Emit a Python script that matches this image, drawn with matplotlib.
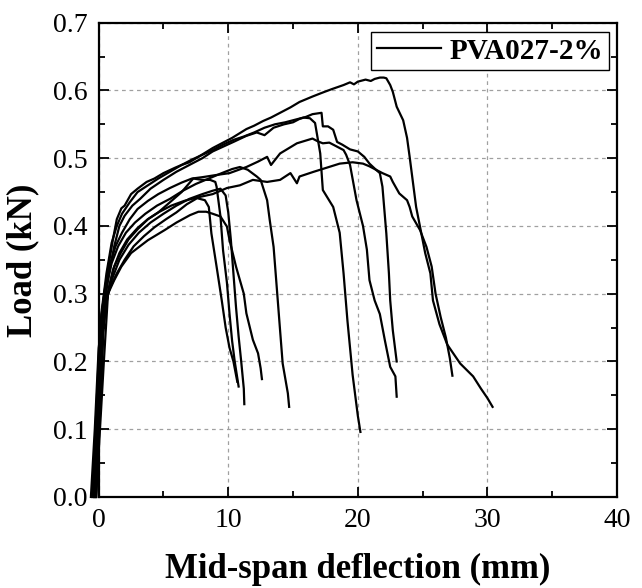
import matplotlib
matplotlib.use("Agg")
import matplotlib.pyplot as plt
from matplotlib.ticker import MultipleLocator

plt.rcParams["font.family"] = ["Liberation Serif", "DejaVu Serif"]

# --- datos (deflexión en mm, carga en kN) ---
xa = [-0.3, 0.0, 0.3, 0.7, 1.1, 1.4, 1.75, 2.0, 2.5, 3.0, 3.7, 4.3, 5.0, 5.9, 6.4, 7.0, 7.7,
      8.8, 9.5, 10.3, 11.4, 12.0, 12.7, 13.3, 14.0, 14.8, 15.5, 16.5, 17.3, 18.0, 18.9, 19.4,
      19.7, 20.0, 20.6, 21.0, 21.3, 21.7, 22.0, 22.2, 22.5, 22.7, 23.0, 23.5, 23.8, 24.0, 24.5,
      24.8, 25.2, 25.6, 25.8, 26.3, 26.9, 27.9, 28.9, 29.5, 30.0, 30.4]
ya = [0.0, 0.12, 0.28, 0.335, 0.38, 0.41, 0.426, 0.43, 0.447, 0.455, 0.465, 0.47, 0.478, 0.486,
      0.49, 0.494, 0.502, 0.515, 0.522, 0.53, 0.543, 0.548, 0.555, 0.56, 0.567, 0.575, 0.583,
      0.591, 0.597, 0.602, 0.608, 0.612, 0.609, 0.613, 0.616, 0.614, 0.617, 0.619, 0.619, 0.618,
      0.608, 0.598, 0.576, 0.556, 0.53, 0.502, 0.428, 0.399, 0.36, 0.33, 0.29, 0.255, 0.225,
      0.197, 0.178, 0.16, 0.146, 0.133]

xb = [-0.2, 0.1, 0.4, 0.8, 1.2, 1.6, 2.0, 2.6, 3.2, 4.0, 5.0, 6.0, 7.0, 8.0, 8.8, 9.6, 10.4,
      11.4, 12.2, 12.8, 13.5, 14.3, 15.0, 15.5, 16.0, 16.5, 17.2, 17.3, 17.7, 18.1, 18.4, 18.8,
      19.4, 20.0, 20.5, 20.9, 21.4, 21.9, 22.5, 22.7, 23.2, 23.8, 24.0, 24.2, 24.8, 25.3, 25.7,
      26.0, 26.4, 26.8, 27.1, 27.3]
yb = [0.0, 0.14, 0.28, 0.33, 0.37, 0.40, 0.415, 0.43, 0.44, 0.455, 0.468, 0.48, 0.49, 0.50,
      0.51, 0.517, 0.524, 0.533, 0.538, 0.534, 0.545, 0.55, 0.553, 0.558, 0.561, 0.565, 0.567,
      0.547, 0.547, 0.542, 0.524, 0.52, 0.513, 0.51, 0.502, 0.492, 0.483, 0.478, 0.473, 0.465,
      0.448, 0.438, 0.428, 0.414, 0.394, 0.369, 0.34, 0.30, 0.265, 0.235, 0.205, 0.179]

xc = [-0.4, -0.1, 0.2, 0.6, 1.0, 1.4, 1.8, 2.4, 3.0, 3.8, 4.6, 5.5, 6.4, 7.2, 8.0, 8.8, 9.6,
      10.4, 11.2, 12.0, 12.8, 13.6, 14.4, 15.2, 15.8, 16.3, 16.7, 17.1, 17.3, 18.1, 18.6, 18.9,
      19.2, 19.6, 20.0, 20.2]
yc = [0.0, 0.13, 0.27, 0.33, 0.375, 0.40, 0.418, 0.435, 0.45, 0.46, 0.47, 0.48, 0.49, 0.498,
      0.505, 0.512, 0.52, 0.527, 0.532, 0.538, 0.545, 0.55, 0.553, 0.557, 0.56, 0.559, 0.552,
      0.507, 0.453, 0.428, 0.39, 0.33, 0.26, 0.18, 0.12, 0.096]

xd = [-0.5, -0.2, 0.1, 0.5, 0.9, 1.3, 1.8, 2.4, 3.0, 3.8, 4.6, 5.5, 6.4, 7.2, 8.0, 9.0, 10.1,
      11.4, 12.3, 13.0, 13.3, 14.0, 15.3, 16.5, 16.9, 17.3, 17.8, 18.4, 18.9, 19.1, 19.4, 19.9,
      20.4, 20.7, 20.9, 21.3, 21.7, 22.1, 22.5, 22.9, 23.0]
yd = [0.0, 0.12, 0.25, 0.31, 0.345, 0.37, 0.39, 0.41, 0.425, 0.437, 0.447, 0.456, 0.464, 0.47,
      0.472, 0.475, 0.478, 0.487, 0.495, 0.502, 0.49, 0.507, 0.522, 0.529, 0.525, 0.522, 0.523,
      0.517, 0.512, 0.505, 0.49, 0.438, 0.40, 0.365, 0.32, 0.29, 0.27, 0.23, 0.192, 0.178, 0.148]

xe = [-0.3, 0.0, 0.3, 0.7, 1.1, 1.6, 2.2, 3.0, 3.8, 4.6, 5.6, 6.6, 7.6, 8.8, 9.9, 10.9, 11.9,
      13.0, 14.0, 14.8, 15.3, 15.5, 16.6, 17.6, 18.6, 19.6, 20.4, 20.9, 21.4, 21.7, 21.9, 22.2,
      22.4, 22.5, 22.7, 23.0]
ye = [0.0, 0.11, 0.24, 0.30, 0.335, 0.36, 0.38, 0.397, 0.41, 0.42, 0.43, 0.437, 0.442, 0.447,
      0.456, 0.46, 0.468, 0.465, 0.468, 0.478, 0.463, 0.473, 0.48, 0.486, 0.492, 0.494, 0.492,
      0.488, 0.483, 0.478, 0.458, 0.389, 0.33, 0.29, 0.246, 0.2]

xf = [-0.4, -0.1, 0.2, 0.6, 1.0, 1.5, 2.1, 2.8, 3.6, 4.5, 5.5, 6.5, 7.5, 8.5, 9.5, 10.3, 10.9,
      11.5, 12.2, 12.5, 12.8, 13.0, 13.2, 13.5, 13.7, 14.0, 14.2, 14.6, 14.7]
yf = [0.0, 0.12, 0.25, 0.31, 0.345, 0.37, 0.39, 0.405, 0.418, 0.43, 0.44, 0.452, 0.462, 0.47,
      0.478, 0.484, 0.487, 0.483, 0.473, 0.468, 0.45, 0.438, 0.409, 0.369, 0.32, 0.246, 0.197,
      0.153, 0.133]

xg = [-0.2, 0.1, 0.4, 0.8, 1.2, 1.7, 2.3, 3.0, 3.8, 4.6, 5.5, 6.4, 7.3, 8.0, 8.6, 9.0, 9.1,
      9.4, 9.6, 9.9, 10.1, 10.3, 10.5, 10.8]
yg = [0.0, 0.12, 0.26, 0.31, 0.34, 0.36, 0.38, 0.395, 0.41, 0.42, 0.435, 0.45, 0.47, 0.468,
      0.468, 0.465, 0.458, 0.414, 0.364, 0.316, 0.27, 0.23, 0.2, 0.163]

xh = [-0.6, -0.3, 0.0, 0.4, 0.9, 1.4, 2.0, 2.7, 3.5, 4.3, 5.2, 6.0, 6.8, 7.6, 8.2, 8.5, 8.7,
      9.1, 9.5, 9.8, 10.1, 10.4, 10.7]
yh = [0.0, 0.10, 0.22, 0.28, 0.31, 0.33, 0.35, 0.37, 0.385, 0.398, 0.41, 0.42, 0.432, 0.441,
      0.438, 0.428, 0.389, 0.34, 0.29, 0.25, 0.22, 0.2, 0.17]

xx = [-0.4, -0.1, 0.2, 0.6, 1.0, 1.6, 2.3, 3.1, 4.0, 5.0, 6.0, 7.0, 8.0, 8.8, 9.4, 9.8, 10.0,
      10.2, 10.4, 10.6, 10.8, 11.0, 11.2, 11.24]
yx = [0.0, 0.10, 0.22, 0.29, 0.32, 0.35, 0.372, 0.39, 0.405, 0.418, 0.43, 0.44, 0.447, 0.452,
      0.455, 0.445, 0.42, 0.38, 0.33, 0.28, 0.237, 0.2, 0.16, 0.137]

xi = [-0.2, 0.1, 0.4, 0.72, 1.2, 1.75, 2.5, 3.8, 5.1, 6.0, 7.05, 7.7, 8.3, 8.8, 9.4, 9.9, 10.1,
      10.6, 11.2, 11.4, 11.9, 12.3, 12.5, 12.6]
yi = [0.0, 0.10, 0.20, 0.30, 0.32, 0.34, 0.36, 0.379, 0.394, 0.405, 0.416, 0.421, 0.421, 0.418,
      0.414, 0.399, 0.379, 0.34, 0.30, 0.271, 0.232, 0.212, 0.19, 0.174]

curvas = [(xa, ya), (xb, yb), (xc, yc), (xd, yd), (xe, ye),
          (xf, yf), (xg, yg), (xh, yh), (xx, yx), (xi, yi)]
etiqueta = "PVA027-2%"

# --- figura ---
fig = plt.figure(figsize=(6.42, 5.88), dpi=100)
ax = fig.add_axes([0.1537, 0.1548, 0.8073, 0.8066])

for k, (xs, ys) in enumerate(curvas):
    ax.plot(xs, ys, color="black", lw=1.6, clip_on=False,
            label=etiqueta if k == 0 else None)

ax.set_xlim(0, 40)
ax.set_ylim(0, 0.7)
ax.xaxis.set_major_locator(MultipleLocator(10))
ax.xaxis.set_minor_locator(MultipleLocator(5))
ax.yaxis.set_major_locator(MultipleLocator(0.1))
ax.yaxis.set_minor_locator(MultipleLocator(0.05))
ax.tick_params(which="both", direction="in", top=True, right=True, width=1.3)
ax.tick_params(which="major", length=7, labelsize=20, pad=8)
ax.tick_params(which="minor", length=4)
for s in ax.spines.values():
    s.set_linewidth(1.6)

ax.grid(True, which="major", color="#a0a0a0", linestyle=(0, (3, 3)), lw=0.9)
ax.set_axisbelow(True)

ax.set_xlabel("Mid-span deflection (mm)", fontsize=25, fontweight="bold", labelpad=14)
ax.set_ylabel("Load (kN)", fontsize=25, fontweight="bold", labelpad=10)

leg = ax.legend(loc="upper right", bbox_to_anchor=(0.9846, 0.981), borderaxespad=0,
                fancybox=False, framealpha=1, edgecolor="black",
                prop={"weight": "bold", "size": 21},
                handlelength=2.2, handletextpad=0.3, borderpad=0.2)
leg.get_frame().set_linewidth(1.0)

fig.savefig("out.png", dpi=100)
